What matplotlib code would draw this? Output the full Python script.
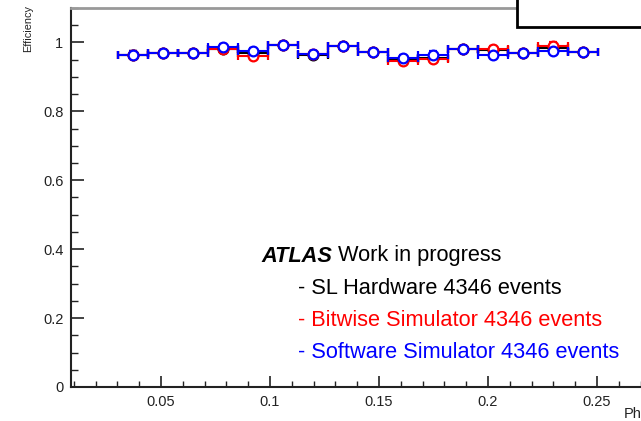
import matplotlib
matplotlib.use("Agg")
import matplotlib.pyplot as plt
from matplotlib.patches import Rectangle
from matplotlib.ticker import MultipleLocator
import numpy as np

plt.rcParams['font.family'] = ['Liberation Sans', 'DejaVu Sans']

# bin edges in phi (16 bins)
bin_lo = 0.0301
bin_hi = 0.2505
n_bins = 16

# efficiency per bin
eff_hw = [0.965, 0.970, 0.968, 0.982, 0.968, 0.992, 0.965, 0.989,
          0.972, 0.951, 0.955, 0.982, 0.978, 0.970, 0.985, 0.973]
eff_bit = [0.965, 0.970, 0.968, 0.980, 0.962, 0.992, 0.966, 0.989,
           0.972, 0.946, 0.952, 0.982, 0.980, 0.970, 0.991, 0.973]
eff_sw = [0.965, 0.970, 0.968, 0.987, 0.974, 0.992, 0.966, 0.989,
          0.972, 0.955, 0.965, 0.982, 0.965, 0.970, 0.975, 0.973]
eff_err = 0.009

series = [
    ("- SL Hardware 4346 events", eff_hw, "black"),
    ("- Bitwise Simulator 4346 events", eff_bit, "#ff0000"),
    ("- Software Simulator 4346 events", eff_sw, "#0000ff"),
]

W, H = 641, 421
fig = plt.figure(figsize=(W / 100, H / 100), dpi=100)

# frame: left at x=71px, bottom at y=387px, top at y=8px; right runs off the canvas
ax_l, ax_r = 71, 645
ax_b, ax_t = 387, 8
ax = fig.add_axes([ax_l / W, 1 - ax_b / H, (ax_r - ax_l) / W, (ax_b - ax_t) / H])

edges = np.linspace(bin_lo, bin_hi, n_bins + 1)
centers = 0.5 * (edges[:-1] + edges[1:])
half = 0.5 * (edges[1] - edges[0])

for label, vals, col in series:
    ax.errorbar(centers, vals, xerr=half, yerr=eff_err, fmt='o', color=col,
                mfc='white', mec=col, ms=7, mew=1.6, elinewidth=1.5,
                capsize=3, capthick=1.2)

ax.set_xlim(0.0087, 0.272)
ax.set_ylim(0, 1.1)
ax.xaxis.set_major_locator(MultipleLocator(0.05))
ax.xaxis.set_minor_locator(MultipleLocator(0.01))
ax.yaxis.set_major_locator(MultipleLocator(0.2))
ax.yaxis.set_minor_locator(MultipleLocator(0.05))
ax.set_xticks([0.05, 0.1, 0.15, 0.2, 0.25])
ax.set_xticklabels(["0.05", "0.1", "0.15", "0.2", "0.25"])
ax.set_yticks([0, 0.2, 0.4, 0.6, 0.8, 1.0])
ax.set_yticklabels(["0", "0.2", "0.4", "0.6", "0.8", "1"])
ax.tick_params(which='both', direction='in', top=False, right=False,
               labelsize=10.5, colors='#222222', pad=5.5)
ax.tick_params(axis='x', which='major', length=8, width=1.2)
ax.tick_params(axis='x', which='minor', length=4.5, width=1.0)
ax.tick_params(axis='y', which='major', length=9, width=1.2)
ax.tick_params(axis='y', which='minor', length=5, width=1.0)

ax.spines['left'].set_linewidth(1.5)
ax.spines['bottom'].set_linewidth(1.5)
ax.spines['left'].set_color('#222222')
ax.spines['bottom'].set_color('#222222')
ax.spines['top'].set_color('#999999')
ax.spines['top'].set_linewidth(2)
ax.spines['right'].set_visible(False)

# axis titles (ROOT style: aligned to the axis ends)
fig.text(28 / W, 1 - 5 / H, "Efficiency", rotation=90, ha='center', va='top',
         fontsize=7.8, color='#222222')
fig.text(645 / W, 1 - 414 / H, "Phi", ha='right', va='center',
         fontsize=10.5, color='#222222')

# labels block
ty = [256, 288, 321, 353]
fs = 15.7
atlas = fig.text(261 / W, 1 - ty[0] / H, "ATLAS", fontsize=fs, fontweight='bold',
                 fontstyle='italic', va='center', ha='left')
rend = fig.canvas.get_renderer()
bb = atlas.get_window_extent(renderer=rend)
fig.text((bb.x1 + 6) / W, 1 - ty[0] / H, "Work in progress", fontsize=fs,
         va='center', ha='left')
for (label, vals, col), y in zip(series, ty[1:]):
    fig.text(298 / W, 1 - y / H, label, fontsize=fs, color=col,
             va='center', ha='left')

# title box poking in from the top right
fig.patches.append(Rectangle((517 / W, 1 - 27 / H), 0.3, 0.2,
                             transform=fig.transFigure, facecolor='white',
                             edgecolor='black', linewidth=2, zorder=5))

fig.savefig("out.png", dpi=100)
